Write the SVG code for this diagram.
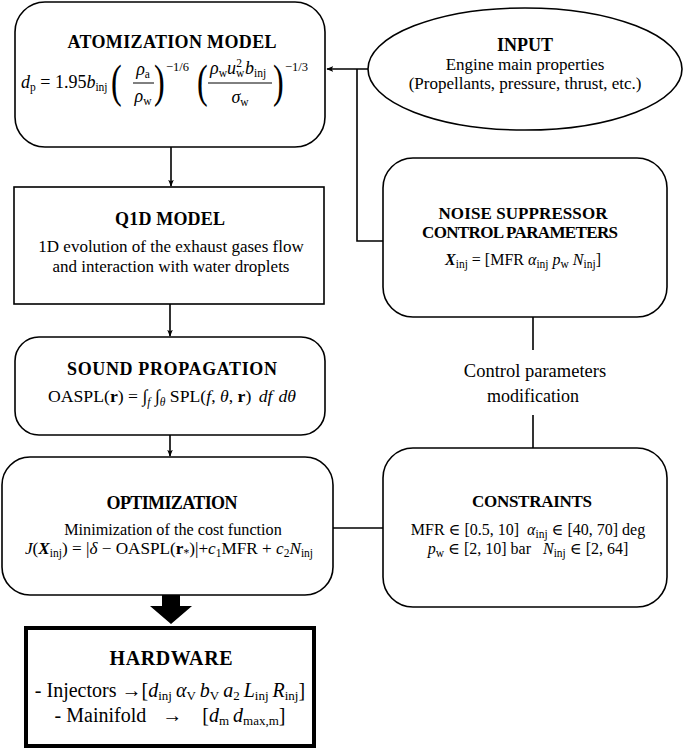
<svg xmlns="http://www.w3.org/2000/svg" width="685" height="755" viewBox="0 0 685 755">
<style>
text{font-family:"Liberation Serif","DejaVu Serif",serif;fill:#000}
.t{font-weight:bold;font-size:18px;text-anchor:middle}
.tr{font-weight:bold;font-size:17px;text-anchor:middle}
.b{font-size:17px;text-anchor:middle}
.i{font-style:italic}
.bi{font-style:italic;font-weight:bold}
.bf{font-weight:bold}
.s{font-size:11.5px}
.box{fill:#fff;stroke:#000;stroke-width:1.6}
.con{fill:none;stroke:#000;stroke-width:1.6}
.par{font-size:46px}
</style>
<defs>
<marker id="ah" viewBox="0 0 10 8" refX="9" refY="4" markerWidth="7" markerHeight="6" markerUnits="userSpaceOnUse" orient="auto">
<path d="M0,0 L10,4 L0,8 L2.5,4 z" fill="#000"/>
</marker>
</defs>

<g id="connectors">
<line class="con" x1="368" y1="69" x2="327" y2="69" marker-end="url(#ah)"/>
<polyline class="con" points="357,69 357,241 383,241"/>
<line class="con" x1="171" y1="147" x2="171" y2="186" marker-end="url(#ah)"/>
<line class="con" x1="170" y1="304" x2="170" y2="336" marker-end="url(#ah)"/>
<line class="con" x1="170" y1="435" x2="170" y2="456" marker-end="url(#ah)"/>
<line class="con" x1="533" y1="317" x2="533" y2="350"/>
<line class="con" x1="533" y1="415" x2="533" y2="448"/>
<line class="con" x1="333" y1="528" x2="383" y2="528"/>
<polygon points="162,595 180,595 180,606 192,606 171,624 150,606 162,606" fill="#000"/>
</g>

<g id="atomization">
<rect class="box" x="15" y="2" width="310" height="145" rx="30"/>
<text class="t" x="172" y="48" textLength="209">ATOMIZATION MODEL</text>
<text x="21" y="88" font-size="18"><tspan class="i">d</tspan><tspan class="s" dy="3">p</tspan><tspan dy="-3"> = 1.95</tspan><tspan class="i">b</tspan><tspan class="s" dy="3">inj</tspan></text>
<text class="par" transform="translate(111,97) scale(0.7,1)">(</text>
<text x="143" y="75" font-size="18" text-anchor="middle"><tspan class="i">ρ</tspan><tspan class="s" dy="3">a</tspan></text>
<line x1="133" y1="83" x2="154" y2="83" stroke="#000" stroke-width="1"/>
<text x="143" y="102" font-size="18" text-anchor="middle"><tspan class="i">ρ</tspan><tspan class="s" dy="3">w</tspan></text>
<text class="par" transform="translate(154,97) scale(0.7,1)">)</text>
<text x="166" y="71" font-size="12.5">−1/6</text>
<text class="par" transform="translate(197,97) scale(0.7,1)">(</text>
<text x="210" y="74" font-size="18"><tspan class="i">ρ</tspan><tspan class="s" dy="3">w</tspan><tspan class="i" dy="-3">u</tspan><tspan class="s" dy="3">w</tspan><tspan class="s" dx="-8" dy="-10">2</tspan><tspan class="i" dx="3" dy="7">b</tspan><tspan class="s" dy="3">inj</tspan></text>
<line x1="208" y1="83" x2="272" y2="83" stroke="#000" stroke-width="1"/>
<text x="240" y="103" font-size="18" text-anchor="middle"><tspan class="i">σ</tspan><tspan class="s" dy="3">w</tspan></text>
<text class="par" transform="translate(273,97) scale(0.7,1)">)</text>
<text x="285" y="71" font-size="12.5">−1/3</text>
</g>

<g id="input">
<ellipse class="box" cx="525" cy="69" rx="157" ry="61"/>
<text class="t" x="525" y="51">INPUT</text>
<text class="b" x="525" y="70">Engine main properties</text>
<text class="b" x="525" y="89">(Propellants, pressure, thrust, etc.)</text>
</g>

<g id="q1d">
<rect class="box" x="14" y="187" width="310" height="117"/>
<text class="t" x="170" y="225" textLength="110">Q1D MODEL</text>
<text class="b" x="171" y="252">1D evolution of the exhaust gases flow</text>
<text class="b" x="171" y="272">and interaction with water droplets</text>
</g>

<g id="sound">
<rect class="box" x="15" y="337" width="310" height="98" rx="24"/>
<text class="t" x="172" y="375" textLength="210">SOUND PROPAGATION</text>
<text class="b" x="172" y="402" style="font-size:17.7px">OASPL(<tspan class="bf">r</tspan>) = ∫<tspan class="s i" dy="4">f</tspan><tspan dy="-4"> ∫</tspan><tspan class="s i" dy="4">θ</tspan><tspan dy="-4"> SPL(</tspan><tspan class="i">f</tspan>, <tspan class="i">θ</tspan>, <tspan class="bf">r</tspan>) <tspan class="i" dx="3">df</tspan><tspan class="i" dx="6">dθ</tspan></text>
</g>

<g id="optimization">
<rect class="box" x="2" y="457" width="331" height="138" rx="28"/>
<text class="t" x="172" y="509" textLength="131">OPTIMIZATION</text>
<text class="b" x="173" y="535" style="font-size:16.2px">Minimization of the cost function</text>
<text class="b" x="169" y="554" style="font-size:17.2px"><tspan class="i">J</tspan>(<tspan class="bi">X</tspan><tspan class="s" dy="3">inj</tspan><tspan dy="-3">) = |</tspan><tspan class="i">δ</tspan> − OASPL(<tspan class="bf">r</tspan><tspan class="s" dy="3">*</tspan><tspan dy="-3">)|+</tspan><tspan class="i">c</tspan><tspan class="s" dy="3">1</tspan><tspan dy="-3">MFR + </tspan><tspan class="i">c</tspan><tspan class="s" dy="3">2</tspan><tspan class="i" dy="-3">N</tspan><tspan class="s" dy="3">inj</tspan></text>
</g>

<g id="hardware">
<rect x="26" y="628" width="288" height="118" fill="#fff" stroke="#000" stroke-width="4"/>
<text class="t" x="171" y="665" style="font-size:20px" textLength="123">HARDWARE</text>
<text x="170" y="697" font-size="20" text-anchor="middle">- Injectors →[<tspan class="i">d</tspan><tspan font-size="13" dy="3">inj</tspan><tspan class="i" dy="-3" dx="4">α</tspan><tspan font-size="13" dy="3">V</tspan><tspan class="i" dy="-3" dx="4">b</tspan><tspan font-size="13" dy="3">V</tspan><tspan class="i" dy="-3" dx="4">a</tspan><tspan font-size="13" dy="3">2</tspan><tspan class="i" dy="-3" dx="4">L</tspan><tspan font-size="13" dy="3">inj</tspan><tspan class="i" dy="-3" dx="4">R</tspan><tspan font-size="13" dy="3">inj</tspan><tspan dy="-3">]</tspan></text>
<text x="170" y="722" font-size="20" text-anchor="middle">- Mainifold<tspan dx="16">→</tspan><tspan dx="20">[</tspan><tspan class="i">d</tspan><tspan font-size="13" dy="3">m</tspan><tspan class="i" dy="-3" dx="4">d</tspan><tspan font-size="13" dy="3">max,m</tspan><tspan dy="-3">]</tspan></text>
</g>

<g id="noise">
<rect class="box" x="383" y="158" width="284" height="159" rx="30"/>
<text class="tr" x="523" y="219" textLength="169">NOISE SUPPRESSOR</text>
<text class="tr" x="520" y="238" textLength="196">CONTROL PARAMETERS</text>
<text class="b" x="523" y="265" style="font-size:16px"><tspan class="bi">X</tspan><tspan class="s" dy="3">inj</tspan><tspan dy="-3"> = [MFR </tspan><tspan class="i">α</tspan><tspan class="s" dy="3">inj</tspan><tspan class="i" dy="-3" dx="4">p</tspan><tspan class="s" dy="3">w</tspan><tspan class="i" dy="-3" dx="4">N</tspan><tspan class="s" dy="3">inj</tspan><tspan dy="-3">]</tspan></text>
</g>

<g id="label-modification">
<text class="b" x="535" y="377" style="font-size:18.5px">Control parameters</text>
<text class="b" x="533" y="402" style="font-size:18px">modification</text>
</g>

<g id="constraints">
<rect class="box" x="383" y="448" width="284" height="159" rx="30"/>
<text class="tr" x="532" y="507" textLength="120">CONSTRAINTS</text>
<text class="b" x="528" y="535" style="font-size:16px">MFR ∈ [0.5, 10]<tspan class="i" dx="8">α</tspan><tspan class="s" dy="3">inj</tspan><tspan dy="-3"> ∈ [40, 70] deg</tspan></text>
<text class="b" x="528" y="554" style="font-size:16px"><tspan class="i">p</tspan><tspan class="s" dy="3">w</tspan><tspan dy="-3"> ∈ [2, 10] bar</tspan><tspan class="i" dx="12">N</tspan><tspan class="s" dy="3">inj</tspan><tspan dy="-3"> ∈ [2, 64]</tspan></text>
</g>
</svg>
